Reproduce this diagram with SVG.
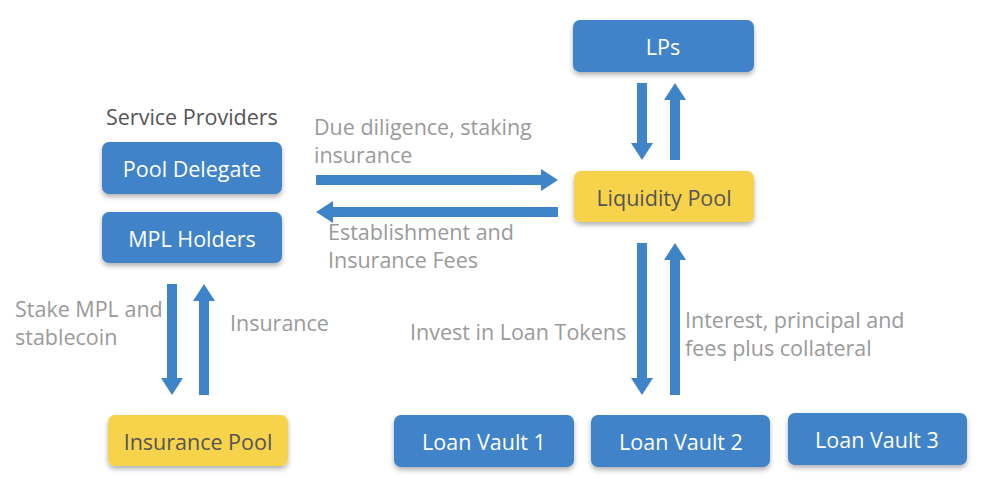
<svg xmlns="http://www.w3.org/2000/svg" width="995" height="492" viewBox="0 0 995 492">
<style>
.box{fill:#3f83c8;filter:url(#sh)}
.ybox{fill:#f7d24b;filter:url(#sh)}
.nt{font-family:"Open Sans","Liberation Sans",sans-serif;font-size:21.5px;fill:#ffffff;text-anchor:middle;dominant-baseline:central}
.yt{fill:#555555}
.lbl{font-family:"Open Sans","Liberation Sans",sans-serif;font-size:21.5px;fill:#9a9a9a}
.hdr{font-family:"Open Sans","Liberation Sans",sans-serif;font-size:21.5px;fill:#555555}
.arr{stroke:#3f83c8;stroke-width:10;fill:none;marker-end:url(#ah)}
</style>
<defs>
<filter id="sh" x="-10%" y="-20%" width="120%" height="150%">
<feDropShadow dx="0" dy="3" stdDeviation="2.5" flood-color="#000" flood-opacity="0.3"/>
</filter>
<marker id="ah" markerUnits="userSpaceOnUse" markerWidth="18" markerHeight="24" refX="0" refY="12" orient="auto">
<path d="M0,1 L17,12 L0,23 Z" fill="#3f83c8"/>
</marker>
</defs>
<text class="hdr" x="106" y="125">Service Providers</text>
<g id="lps"><rect class="box" x="573" y="20" width="181" height="52" rx="7"/><text class="nt" x="663" y="46">LPs</text></g>
<g id="liquidity-pool"><rect class="ybox" x="574" y="171" width="180" height="51" rx="7"/><text class="nt yt" x="664" y="197">Liquidity Pool</text></g>
<g id="pool-delegate"><rect class="box" x="102" y="142" width="180" height="52" rx="7"/><text class="nt" x="192" y="168">Pool Delegate</text></g>
<g id="mpl-holders"><rect class="box" x="102" y="212" width="180" height="51" rx="7"/><text class="nt" x="192" y="238">MPL Holders</text></g>
<g id="insurance-pool"><rect class="ybox" x="108" y="415" width="180" height="51" rx="7"/><text class="nt yt" x="198" y="441">Insurance Pool</text></g>
<g id="loan-vault-1"><rect class="box" x="394" y="415" width="180" height="52" rx="7"/><text class="nt" x="484" y="441">Loan Vault 1</text></g>
<g id="loan-vault-2"><rect class="box" x="591" y="415" width="179" height="52" rx="7"/><text class="nt" x="681" y="441">Loan Vault 2</text></g>
<g id="loan-vault-3"><rect class="box" x="788" y="413" width="179" height="52" rx="7"/><text class="nt" x="877" y="439">Loan Vault 3</text></g>
<g id="connectors">
<path class="arr" d="M642,83 L642,143"/>
<path class="arr" d="M675,160 L675,100"/>
<path class="arr" d="M316,180 L541,180"/>
<path class="arr" d="M558,212 L333,212"/>
<path class="arr" d="M172,284 L172,378"/>
<path class="arr" d="M204,395 L204,301"/>
<path class="arr" d="M642,243 L642,378"/>
<path class="arr" d="M675,395 L675,260"/>
</g>
<text class="lbl" x="314" y="135">Due diligence, staking</text>
<text class="lbl" x="314" y="163">insurance</text>
<text class="lbl" x="328" y="240">Establishment and</text>
<text class="lbl" x="328" y="268">Insurance Fees</text>
<text class="lbl" x="15" y="317">Stake MPL and</text>
<text class="lbl" x="15" y="345">stablecoin</text>
<text class="lbl" x="230" y="331">Insurance</text>
<text class="lbl" x="410" y="340">Invest in Loan Tokens</text>
<text class="lbl" x="685" y="328">Interest, principal and</text>
<text class="lbl" x="685" y="356">fees plus collateral</text>
</svg>
